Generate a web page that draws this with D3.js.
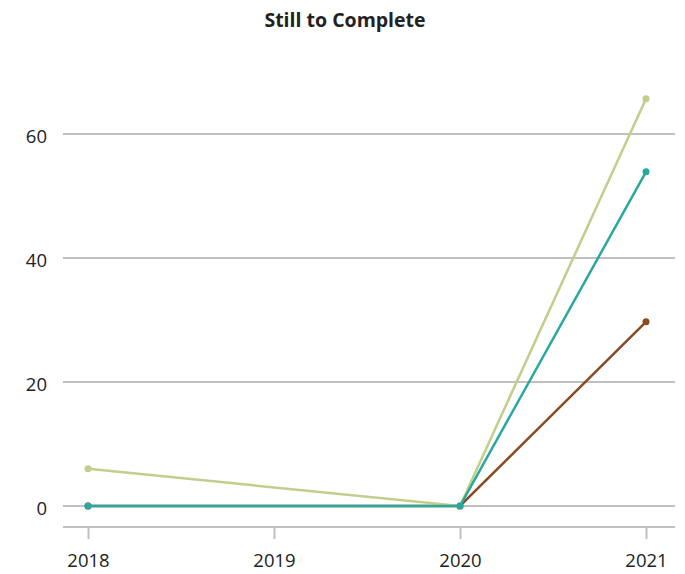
<!DOCTYPE html>
<html><head><meta charset="utf-8">
<script src="https://cdn.jsdelivr.net/npm/d3@7"></script>
<style>body{margin:0;background:#fff}svg{display:block}</style>
</head><body>
<script>
const years = [2018, 2020, 2021];
const xTicks = [2018, 2019, 2020, 2021];
const yTicks = [0, 20, 40, 60];
const seriesNames = ["Brown", "Khaki", "Teal"];
const brownValues = [0, 0, 29.7];
const khakiValues = [6, 0, 65.7];
const tealValues = [0, 0, 53.9];
const colors = ["#8b4a22", "#c3cd8c", "#2aa8a0"];
const title = "Still to Complete";

const W = 685, H = 574;
const svg = d3.select("body").append("svg").attr("width", W).attr("height", H);
const font = "'Open Sans', 'Liberation Sans', sans-serif";

const x = d3.scaleLinear().domain([2018, 2021]).range([88, 646]);
const y = d3.scaleLinear().domain([0, 60]).range([506, 134]);

svg.append("text").attr("x", 345).attr("y", 27).attr("text-anchor", "middle")
  .attr("font-family", font).attr("font-weight", "bold").attr("font-size", 19.5)
  .attr("fill", "#222").text(title);

// gridlines
svg.append("g").selectAll("line").data(yTicks).join("line")
  .attr("x1", 63).attr("x2", 675).attr("y1", d => y(d)).attr("y2", d => y(d))
  .attr("stroke", "#c0c0c0").attr("stroke-width", 2);
svg.append("g").selectAll("text").data(yTicks).join("text")
  .attr("x", 47).attr("y", d => y(d) + 8.5).attr("text-anchor", "end")
  .attr("font-family", font).attr("font-size", 18.5).attr("fill", "#222").text(d => d);

// x axis
const xAxis = d3.axisBottom(x).tickValues(xTicks).tickFormat(d3.format("d")).tickSize(12).tickSizeOuter(0);
const gx = svg.append("g").attr("transform", "translate(0,527)").call(xAxis);
gx.select(".domain").attr("d", "M63,0H675").attr("stroke", "#c0c0c0").attr("stroke-width", 2);
gx.selectAll(".tick line").attr("stroke", "#c0c0c0").attr("stroke-width", 2);
gx.selectAll(".tick text").attr("font-family", font).attr("font-size", 18.5).attr("fill", "#222")
  .attr("y", 40).attr("dy", 0);

const all = [brownValues, khakiValues, tealValues];
const line = d3.line().x((d, i) => x(years[i])).y(d => y(d));
all.forEach((vals, k) => {
  const g = svg.append("g");
  g.append("path").attr("d", line(vals)).attr("fill", "none")
    .attr("stroke", colors[k]).attr("stroke-width", 2.5);
  g.selectAll("circle").data(vals).join("circle")
    .attr("cx", (d, i) => x(years[i])).attr("cy", d => y(d)).attr("r", 3.5).attr("fill", colors[k]);
});
</script>
</body></html>
